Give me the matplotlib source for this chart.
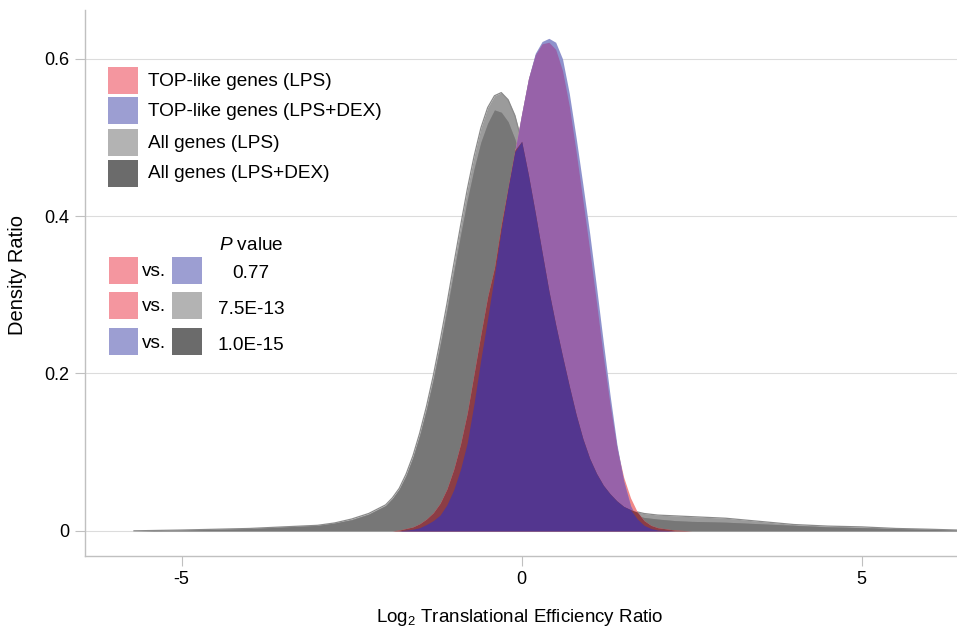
import numpy as np
import matplotlib
matplotlib.use('Agg')
import matplotlib.pyplot as plt
from matplotlib.patches import Rectangle

plt.rcParams['font.family'] = ['Liberation Sans', 'DejaVu Sans']
plt.rcParams['mathtext.fontset'] = 'custom'
plt.rcParams['mathtext.rm'] = 'Liberation Sans'
plt.rcParams['mathtext.it'] = 'Liberation Sans:italic'
plt.rcParams['axes.unicode_minus'] = False

# density curves (common x grid)
x_vals = [-5.7, -5.0, -4.5, -4.0, -3.5, -3.0, -2.75, -2.5, -2.25,
          -2.0, -1.9, -1.8, -1.7, -1.6, -1.5, -1.4, -1.3, -1.2, -1.1,
          -1.0, -0.9, -0.8, -0.7, -0.6, -0.5, -0.4, -0.3, -0.2, -0.1,
          0.0, 0.1, 0.2, 0.3, 0.4, 0.5, 0.6, 0.7, 0.8, 0.9,
          1.0, 1.1, 1.2, 1.3, 1.4, 1.5, 1.6, 1.7, 1.8, 1.9,
          2.0, 2.25, 2.5, 3.0, 3.5, 4.0, 4.5, 5.0, 5.5, 6.0, 6.4]

all_lps = [0.0, 0.001, 0.002, 0.003, 0.005, 0.007, 0.010, 0.015, 0.022,
           0.033, 0.042, 0.054, 0.072, 0.095, 0.124, 0.158, 0.197, 0.241, 0.288,
           0.338, 0.387, 0.434, 0.476, 0.512, 0.538, 0.553, 0.557, 0.548, 0.528,
           0.495, 0.452, 0.404, 0.354, 0.305, 0.262, 0.222, 0.184, 0.148, 0.117,
           0.092, 0.073, 0.058, 0.047, 0.038, 0.031, 0.027, 0.024, 0.022, 0.021,
           0.020, 0.019, 0.018, 0.016, 0.012, 0.008, 0.006, 0.005, 0.003, 0.002, 0.001]

all_lps_dex = [0.0, 0.001, 0.002, 0.003, 0.005, 0.007, 0.010, 0.014, 0.021,
               0.032, 0.041, 0.053, 0.070, 0.093, 0.121, 0.154, 0.192, 0.235, 0.280,
               0.328, 0.375, 0.420, 0.460, 0.494, 0.518, 0.535, 0.532, 0.520, 0.498,
               0.468, 0.430, 0.385, 0.338, 0.292, 0.250, 0.212, 0.176, 0.142, 0.112,
               0.088, 0.069, 0.054, 0.043, 0.034, 0.027, 0.022, 0.019, 0.017, 0.016,
               0.015, 0.013, 0.012, 0.011, 0.009, 0.007, 0.005, 0.004, 0.003, 0.002, 0.001]

top_lps = [0.0, 0.0, 0.0, 0.0, 0.0, 0.0, 0.0, 0.0, 0.0,
           0.0, 0.0, 0.001, 0.003, 0.005, 0.009, 0.015, 0.023, 0.035, 0.053,
           0.078, 0.110, 0.150, 0.200, 0.250, 0.298, 0.335, 0.390, 0.437, 0.484,
           0.530, 0.575, 0.605, 0.619, 0.621, 0.612, 0.585, 0.540, 0.482, 0.420,
           0.357, 0.290, 0.222, 0.160, 0.106, 0.068, 0.042, 0.024, 0.013, 0.007,
           0.004, 0.001, 0.0, 0.0, 0.0, 0.0, 0.0, 0.0, 0.0, 0.0, 0.0]

top_lps_dex = [0.0, 0.0, 0.0, 0.0, 0.0, 0.0, 0.0, 0.0, 0.0,
               0.0, 0.0, 0.0, 0.001, 0.002, 0.004, 0.008, 0.013, 0.020, 0.033,
               0.052, 0.078, 0.112, 0.162, 0.218, 0.270, 0.325, 0.383, 0.435, 0.482,
               0.530, 0.575, 0.607, 0.622, 0.626, 0.621, 0.600, 0.556, 0.500, 0.440,
               0.378, 0.310, 0.240, 0.172, 0.110, 0.063, 0.032, 0.015, 0.007, 0.003,
               0.001, 0.0, 0.0, 0.0, 0.0, 0.0, 0.0, 0.0, 0.0, 0.0, 0.0]

legend_labels = ['TOP-like genes (LPS)', 'TOP-like genes (LPS+DEX)',
                 'All genes (LPS)', 'All genes (LPS+DEX)']
legend_colors = ['#f4969f', '#9c9ed2', '#b3b3b3', '#6b6b6b']
test_pairs = [(0, 1), (0, 2), (1, 3)]
p_values = ['0.77', '7.5E-13', '1.0E-15']

x = np.array(x_vals)
g1 = np.array(all_lps)
g2 = np.array(all_lps_dex)
r = np.array(top_lps)
b = np.array(top_lps_dex)
gray_top = np.maximum(g1, g2)

W, H = 957, 631
fig = plt.figure(figsize=(W / 100, H / 100), dpi=100)
ax = fig.add_axes([85 / W, 75 / H, 872 / W, 546 / H])

# overlapping areas painted as flat colours, like the blended original
ax.fill_between(x, 0, g1, color='#9b9b9b', lw=0, zorder=2)
ax.fill_between(x, 0, g2, color='#8a8a8a', lw=0, zorder=2)
ax.fill_between(x, 0, np.minimum(g1, g2), color='#777777', lw=0, zorder=2)
ax.plot(x, g1, color='#8a8a8a', lw=0.9, zorder=2)
ax.fill_between(x, 0, r, color='#f08888', lw=0, zorder=3)
ax.fill_between(x, 0, b, color='#8e92cc', lw=0, zorder=3)
ax.fill_between(x, 0, np.minimum(r, b), color='#9762a9', lw=0, zorder=3)
ax.fill_between(x, 0, np.minimum(r, gray_top), color='#8c3d45', lw=0, zorder=3)
ax.fill_between(x, 0, np.minimum(b, gray_top), color='#53368f', lw=0, zorder=3)

ax.set_xlim(-6.42, 6.40)
ax.set_ylim(-0.032, 0.662)
ax.set_yticks([0, 0.2, 0.4, 0.6])
ax.set_yticklabels(['0', '0.2', '0.4', '0.6'])
ax.set_xticks([-5, 0, 5])
ax.set_xticklabels(['-5', '0', '5'])
ax.yaxis.grid(True, color='#dcdcdc', lw=0.8)
ax.set_axisbelow(True)
ax.tick_params(axis='both', length=7, width=0.8, color='#c0c0c0', labelsize=13, pad=4)
for s in ['top', 'right']:
    ax.spines[s].set_visible(False)
for s in ['left', 'bottom']:
    ax.spines[s].set_color('#c0c0c0')
    ax.spines[s].set_linewidth(1)

fig.text(18 / W, 1 - 275 / H, 'Density Ratio', rotation=90, ha='center', va='center', fontsize=14.5)
fig.text(520 / W, 1 - 618 / H, r'Log$_{\mathregular{2}}$ Translational Efficiency Ratio',
         ha='center', va='center', fontsize=13.5)


def box(x0, y0, x1, y1, c):
    fig.add_artist(Rectangle((x0 / W, 1 - y1 / H), (x1 - x0) / W, (y1 - y0) / H,
                             transform=fig.transFigure, color=c, lw=0))


# colour key
for i, (lab, c) in enumerate(zip(legend_labels, legend_colors)):
    top = [67, 97, 129, 160][i]
    box(108, top, 138, top + 27, c)
    fig.text(148 / W, 1 - (top + 14) / H, lab, ha='left', va='center', fontsize=13.7)

# p value key
fig.text(251 / W, 1 - 245 / H, r'$\mathit{P}$ value', ha='center', va='center', fontsize=13.7)
for i, ((a, k), p) in enumerate(zip(test_pairs, p_values)):
    top = [257, 292, 328][i]
    box(109, top, 138, top + 27, legend_colors[a])
    box(172, top, 202, top + 27, legend_colors[k])
    fig.text(142 / W, 1 - (top + 15) / H, 'vs.', ha='left', va='center', fontsize=13.7)
    fig.text(251 / W, 1 - (top + 17) / H, p, ha='center', va='center', fontsize=13.7)

fig.savefig('out.png', dpi=100)
